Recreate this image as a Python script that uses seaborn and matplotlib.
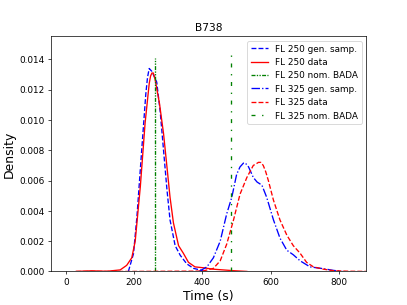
import matplotlib
matplotlib.use("Agg")
import matplotlib.pyplot as plt
import seaborn as sns

# FL 250 generated samples (blue dashed)
fl250_gen_x = [183, 198, 208, 222, 234, 239, 244, 252, 266, 276, 286, 296, 305, 320, 335, 354,
               374, 393, 405]
fl250_gen_y = [0.0, 0.00117, 0.0036, 0.0080, 0.0117, 0.0128, 0.0134, 0.0132, 0.0125, 0.0106,
               0.0080, 0.0054, 0.0034, 0.0017, 0.00106, 0.0005, 0.0002, 0.0001, 0.0]

# FL 250 data (red solid)
fl250_dat_x = [30, 75, 120, 159, 178, 193, 203, 218, 232, 244, 248, 252, 256, 261, 274, 286,
               296, 305, 315, 330, 344, 359, 378, 403, 430, 490, 530]
fl250_dat_y = [0.0, 0.00004, 0.00001, 0.0001, 0.0004, 0.0009, 0.0020, 0.0056, 0.0098, 0.0124,
               0.0129, 0.0131, 0.0131, 0.0127, 0.0111, 0.0091, 0.0069, 0.0049, 0.0032, 0.0017,
               0.0012, 0.0006, 0.0003, 0.00024, 0.00015, 0.00005, 0.0]

# FL 325 generated samples (blue dash-dot)
fl325_gen_x = [390, 413, 432, 452, 471, 486, 500, 510, 520, 525, 535, 549, 560, 574, 588, 608,
               627, 647, 666, 686, 715, 754, 783, 810]
fl325_gen_y = [0.0, 0.0003, 0.0009, 0.0020, 0.0038, 0.0049, 0.0064, 0.0069, 0.00715, 0.00717,
               0.0069, 0.0062, 0.0059, 0.0057, 0.0049, 0.0034, 0.0022, 0.0014, 0.0011, 0.0007,
               0.0003, 0.00018, 0.00007, 0.0]

# FL 325 data (red dashed)
fl325_dat_x = [30, 200, 400, 432, 452, 471, 491, 510, 530, 549, 557, 564, 571, 578, 585, 593,
               608, 627, 647, 666, 686, 705, 725, 754, 783, 830, 880]
fl325_dat_y = [0.0, 0.0, 0.00002, 0.0002, 0.0007, 0.0018, 0.0034, 0.0051, 0.0062, 0.0070,
               0.0071, 0.0072, 0.0072, 0.0070, 0.0066, 0.0060, 0.0047, 0.0034, 0.0024, 0.0017,
               0.0012, 0.0006, 0.0003, 0.00015, 0.00005, 0.00001, 0.0]

# nominal BADA times and the height of their marker lines
bada_time = [260, 485]
bada_height = [0.0141, 0.0147]

fig, ax = plt.subplots(figsize=(6.4, 4.8), dpi=63.6)

sns.lineplot(x=fl250_gen_x, y=fl250_gen_y, ax=ax, color="blue", linestyle="--",
             label="FL 250 gen. samp.")
sns.lineplot(x=fl250_dat_x, y=fl250_dat_y, ax=ax, color="red", linestyle="-",
             label="FL 250 data")
ax.plot([bada_time[0], bada_time[0]], [0, bada_height[0]], color="green",
        linestyle=(0, (3, 1, 1, 1, 1, 1)), label="FL 250 nom. BADA")
sns.lineplot(x=fl325_gen_x, y=fl325_gen_y, ax=ax, color="blue", linestyle="-.",
             label="FL 325 gen. samp.")
sns.lineplot(x=fl325_dat_x, y=fl325_dat_y, ax=ax, color="red", linestyle="--",
             label="FL 325 data")
ax.plot([bada_time[1], bada_time[1]], [0, bada_height[1]], color="green",
        linestyle=(0, (3, 5, 1, 5)), label="FL 325 nom. BADA")

ax.set_xlim(-44, 880)
ax.set_ylim(0, 0.01552)
ax.set_xticks([0, 200, 400, 600, 800])
ax.set_title("B738")
ax.set_xlabel("Time (s)", fontsize=14)
ax.set_ylabel("Density", fontsize=14)
ax.legend(loc="upper right")

plt.savefig("out.png", dpi=63.6)
